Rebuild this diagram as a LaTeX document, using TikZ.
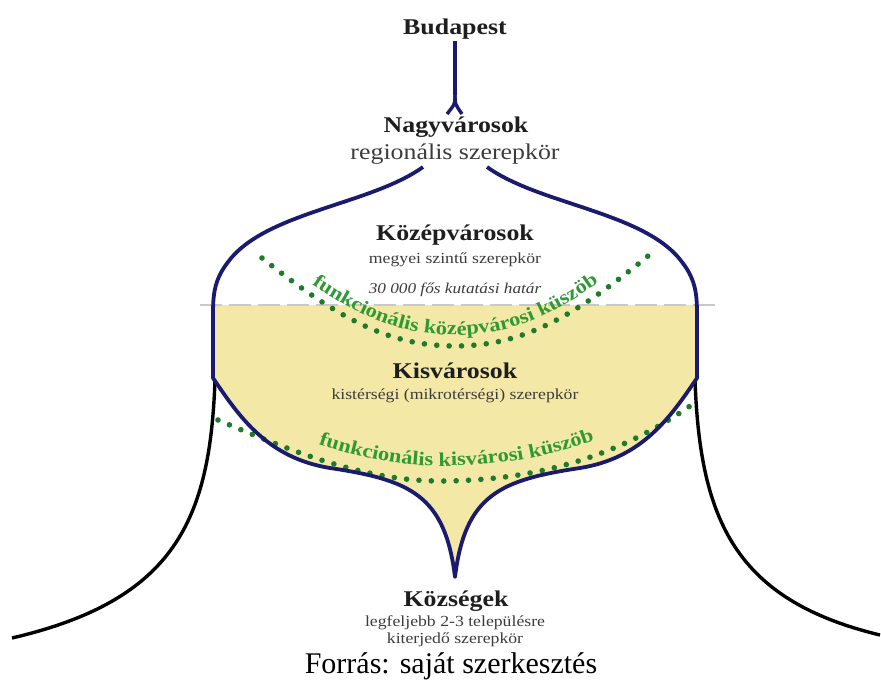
\documentclass[tikz,border=0pt]{standalone}
\usepackage{fontspec}
\setmainfont{Liberation Serif}
\newfontfamily\diagfont[FakeStretch=1.15]{Liberation Serif}
\usepackage{xcolor}
\usepackage{tikz}
\usetikzlibrary{positioning,calc,decorations.text}
\definecolor{outlineblue}{HTML}{1A1A6E}
\definecolor{sand}{HTML}{F4E8A6}
\definecolor{dotgreen}{HTML}{1F7A2A}
\definecolor{textgreen}{HTML}{2F9A34}
\definecolor{cutgray}{HTML}{C8C8C8}
\definecolor{ink}{HTML}{1E1E1E}
\definecolor{subink}{HTML}{3C3C3C}

\begin{document}
\begin{tikzpicture}[x=1pt,y=1pt]
    \tikzset{
      title/.style={font=\diagfont\fontsize{22.5}{24}\selectfont\bfseries,text=ink,anchor=base,inner sep=1pt},
      bigrole/.style={font=\diagfont\fontsize{22.5}{24}\selectfont,text=subink,anchor=base,inner sep=1pt},
      role/.style={font=\diagfont\fontsize{15.4}{17}\selectfont,text=subink,anchor=base,inner sep=1pt},
      caption/.style={font=\fontsize{30}{32}\selectfont,text=black,anchor=base,inner sep=0pt},
      outline/.style={draw=outlineblue,line width=3.8pt,line join=round},
      stem/.style={draw=outlineblue,line width=3.4pt},
      tail/.style={draw=black,line width=3.4pt},
      threshold/.style={draw=dotgreen,line width=5.6pt,line cap=round,dash pattern=on 0pt off 12.4pt},
      cutline/.style={draw=cutgray,line width=2.6pt,dash pattern=on 22pt off 7pt},
      greenlabel/.style={decorate,decoration={text along path,text align=center,text color=textgreen,
        text={|\diagfont\fontsize{19.5}{20}\selectfont\bfseries|#1}}}
    }
    \useasboundingbox (0,0) rectangle (881,-682);
    % key points of the outline
    \coordinate (lhip) at (213,-378);
    \coordinate (rhip) at (697,-378);
    \coordinate (cusp) at (455,-577);
    % small-town band
    \fill[sand] (213,-305) -- (lhip) .. controls (240,-418) and (268,-458) .. (330,-468)
      .. controls (410,-480) and (445,-495) .. (cusp)
      .. controls (465,-495) and (500,-480) .. (580,-468)
      .. controls (642,-458) and (670,-418) .. (rhip) -- (697,-305) -- cycle;
    \draw[cutline] (200,-305) -- (715,-305);
    % thresholds
    \draw[threshold] (262,-258) .. controls (340,-320) and (390,-346) .. (455,-346)
      .. controls (520,-346) and (570,-320) .. (648,-256);
    \draw[threshold] (218,-420) .. controls (300,-455) and (370,-482) .. (445,-481)
      .. controls (540,-480) and (620,-455) .. (690,-406);
    \path[greenlabel={funkcionális középvárosi küszöb}] (262,-247) .. controls (340,-309) and (390,-335) .. (455,-335)
      .. controls (520,-335) and (570,-309) .. (648,-245);
    \path[greenlabel={funkcionális kisvárosi küszöb}] (218,-405) .. controls (300,-440) and (370,-467) .. (445,-466)
      .. controls (540,-465) and (620,-440) .. (690,-391);
    % villages
    \draw[tail] (215,-380) .. controls (210,-520) and (175,-600) .. (12,-638);
    \draw[tail] (695,-380) .. controls (700,-520) and (735,-600) .. (880,-635);
    % towns
    \draw[outline] (423,-167) .. controls (370,-205) and (265,-212) .. (228,-262)
      .. controls (214,-280) and (213,-295) .. (213,-315) -- (lhip)
      .. controls (240,-418) and (268,-458) .. (330,-468)
      .. controls (410,-480) and (445,-495) .. (cusp)
      .. controls (465,-495) and (500,-480) .. (580,-468)
      .. controls (642,-458) and (670,-418) .. (rhip) -- (697,-315)
      .. controls (697,-295) and (696,-280) .. (682,-262)
      .. controls (645,-212) and (540,-205) .. (487,-167);
    % labels
    \node[title] (bp) at (455,-35) {Budapest};
    \node[title] (nagy) at (456,-133) {Nagyvárosok};
    \node[bigrole] (nagyrole) at (455,-160) {regionális szerepkör};
    \node[title] (kozep) at (455,-240) {Középvárosok};
    \node[role] (kozeprole) at (455,-263) {megyei szintű szerepkör};
    \node[role,font=\diagfont\fontsize{15}{17}\selectfont\itshape] (limit) at (455,-293) {30 000 fős kutatási határ};
    \node[title] (kis) at (455,-378) {Kisvárosok};
    \node[role] (kisrole) at (455,-399) {kistérségi (mikrotérségi) szerepkör};
    \node[title] (kozs) at (456,-606) {Községek};
    \node[role] (kozsrole) at (455,-626) {legfeljebb 2-3 településre};
    \node[role] (kozsrole2) at (455,-643) {kiterjedő szerepkör};
    \node[caption] (src) at (451,-673) {Forrás: saját szerkesztés};
    % capital stem
    \coordinate (fork) at (455,-95);
    \draw[stem] (bp.south) -- (fork);
    \draw[stem] (fork) .. controls (455,-104) .. (447,-114);
    \draw[stem] (fork) .. controls (455,-104) .. (462,-114);
  \end{tikzpicture}
\end{document}
